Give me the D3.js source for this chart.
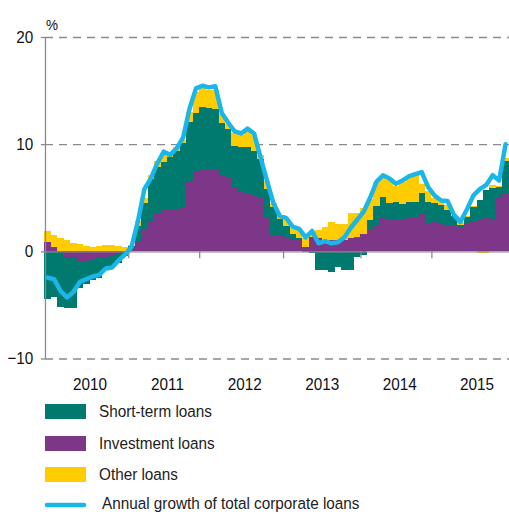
<!DOCTYPE html>
<html>
<head>
<meta charset="utf-8">
<script src="https://cdn.jsdelivr.net/npm/d3@7"></script>
<style>
  html, body { margin: 0; padding: 0; background: #fff; }
  svg { display: block; font-family: "Liberation Sans", Arial, sans-serif; }
</style>
</head>
<body>
<svg id="chart" width="509" height="514"></svg>
<script>
// Contributions to the annual growth of corporate loans, monthly, Dec 2009 – Nov 2015 (p.p.)
const months = d3.range(72).map(i => new Date(2009, 11 + i, 1));

const investment = [
  0.84, 0.40, -0.05, -0.50, -0.60, -0.95, -0.95, -0.80, -0.65, -0.60, -0.35, -0.20,
  -0.05, 0.30, 0.90, 2.08, 2.76, 3.45, 3.85, 3.90, 3.85, 4.16, 6.43, 7.43,
  7.68, 7.70, 7.70, 7.00, 6.85, 5.87, 5.56, 5.40, 5.25, 5.10, 3.23, 1.52,
  1.42, 1.30, 1.10, 1.06, 0.43, 1.30, 1.20, 1.10, 1.06, 1.06, 1.06, 1.20,
  1.35, 1.60, 2.05, 2.50, 3.07, 2.90, 2.95, 3.00, 3.17, 3.20, 3.60, 2.67,
  2.77, 2.60, 2.50, 2.45, 2.14, 2.60, 2.77, 3.00, 3.17, 2.92, 4.94, 5.47
];

const shortTerm = [
  -4.45, -4.30, -5.15, -4.75, -4.70, -2.45, -2.10, -1.90, -1.80, -1.15, -1.25, -0.90,
  -0.40, 0.20, 1.50, 2.40, 3.98, 4.45, 4.45, 4.93, 5.51, 5.91, 5.66, 5.44,
  5.75, 5.64, 5.60, 5.00, 4.55, 3.93, 4.20, 4.36, 4.10, 3.50, 2.57, 2.65,
  1.58, 1.10, 0.50, 0.15, -0.10, -0.15, -1.74, -1.74, -1.90, -1.45, -1.74, -1.75,
  -0.50, -0.30, 0.85, 1.70, 2.03, 1.58, 1.65, 1.40, 1.46, 1.43, 1.80, 1.96,
  1.77, 1.70, 1.40, 0.85, 0.31, 0.60, 1.40, 1.78, 2.53, 2.95, 1.09, 2.93
];

const other = [
  1.08, 1.15, 1.21, 1.05, 0.80, 0.68, 0.53, 0.43, 0.49, 0.56, 0.56, 0.49,
  0.37, 0.05, 0.40, 0.46, 0.36, 0.50, 0.84, 0.47, 0.40, 0.31, 0.91, 2.03,
  1.77, 1.76, 1.80, 0.80, 0.50, 1.20, 1.09, 1.44, 1.50, 0.40, 0.80, 0.33,
  0.35, 0.50, 0.60, 0.80, 0.80, 0.40, 0.80, 1.15, 1.65, 1.50, 1.50, 2.35,
  2.20, 2.40, 2.00, 2.30, 1.90, 2.22, 1.50, 2.10, 2.37, 2.47, 0.90, 1.00,
  0.40, 0.30, 0.40, 0.10, 0.25, 0.10, 0.05, -0.15, -0.15, 0.30, 0.10, 0.30
];

const totalGrowth = [
  -2.45, -2.60, -3.70, -4.30, -3.80, -2.85, -2.60, -2.35, -2.20, -1.60, -1.50, -0.85,
  -0.30, 0.40, 2.80, 5.80, 6.80, 8.20, 9.30, 9.00, 9.60, 10.60, 13.30, 15.20,
  15.45, 15.30, 15.40, 12.90, 12.00, 11.20, 11.00, 11.45, 11.00, 8.80, 6.60, 4.50,
  3.30, 3.10, 2.30, 2.10, 1.30, 1.90, 0.75, 0.95, 0.75, 0.85, 1.30, 2.20,
  2.95, 3.70, 5.00, 6.50, 7.10, 6.80, 6.30, 6.60, 7.00, 7.20, 7.40, 6.00,
  5.20, 4.75, 4.70, 3.40, 2.75, 3.90, 5.20, 5.80, 6.20, 7.10, 6.60, 10.00
];

const years = [2010, 2011, 2012, 2013, 2014, 2015];
const yTicks = [-10, 0, 10, 20];
const gridTicks = [-10, 10, 20];
const axisTickMonths = [13, 24, 37, 49, 60];

const seriesKeys = ["investment", "shortTerm", "other"];
const seriesColors = { investment: "#7e3689", shortTerm: "#007a6e", other: "#ffcc00" };
const lineColor = "#1ab6ea";

const legendItems = [
  { label: "Short-term loans", color: seriesColors.shortTerm, type: "box" },
  { label: "Investment loans", color: seriesColors.investment, type: "box" },
  { label: "Other loans", color: seriesColors.other, type: "box" },
  { label: "Annual growth of total corporate loans", color: lineColor, type: "line" }
];

const svg = d3.select("#chart");
const plotLeft = 45, plotRight = 509;
const textScale = "scale(0.9,1)";

const x = d3.scaleLinear().domain([0, months.length]).range([44.4, 508.8]);
const y = d3.scaleLinear().domain([-10, 20]).range([358.5, 37]);

// dashed horizontal gridlines
const grid = svg.append("g")
  .attr("transform", `translate(${plotLeft},0)`)
  .call(d3.axisLeft(y).tickValues(gridTicks).tickSize(-(plotRight - plotLeft)).tickFormat(""));
grid.select(".domain").remove();
grid.selectAll(".tick line")
  .attr("stroke", "#8a8a8a").attr("stroke-width", 1.3).attr("stroke-dasharray", "8,6");

// stacked bars: positives above zero, negatives below
const table = months.map((m, i) => ({
  i, investment: investment[i], shortTerm: shortTerm[i], other: other[i]
}));
const stacked = d3.stack().keys(seriesKeys).offset(d3.stackOffsetDiverging)(table);

svg.append("g").attr("shape-rendering", "crispEdges")
  .selectAll("g").data(stacked).join("g")
  .attr("fill", s => seriesColors[s.key])
  .selectAll("rect").data(s => s).join("rect")
  .attr("x", d => x(d.data.i))
  .attr("width", d => x(d.data.i + 1) - x(d.data.i))
  .attr("y", d => y(Math.max(d[0], d[1])))
  .attr("height", d => Math.abs(y(d[0]) - y(d[1])));

// zero line with month ticks
const xAxis = svg.append("g")
  .attr("transform", `translate(0,${y(0)})`)
  .call(d3.axisBottom(x).tickValues(axisTickMonths).tickSize(7).tickSizeOuter(0).tickFormat(""));
xAxis.select(".domain").attr("stroke", "#8a8a8a").attr("stroke-width", 1.3);
xAxis.selectAll(".tick line").attr("stroke", "#8a8a8a").attr("stroke-width", 1.3);

// year labels centred under each year
const yearAxis = svg.append("g")
  .attr("transform", "translate(0,372)")
  .call(d3.axisBottom(x)
    .tickValues(years.map(yr => (yr - 2010) * 12 + 7))
    .tickFormat((d, k) => years[k])
    .tickSize(0).tickPadding(6));
yearAxis.select(".domain").remove();
yearAxis.selectAll("text")
  .attr("font-size", 17).attr("fill", "#111")
  .attr("font-family", "'Liberation Sans', Arial, sans-serif")
  .attr("transform", textScale);

// vertical axis with labels
const yAxis = svg.append("g")
  .attr("transform", `translate(${plotLeft},0)`)
  .call(d3.axisLeft(y).tickValues(yTicks).tickSize(4).tickSizeOuter(0).tickPadding(9));
yAxis.select(".domain").attr("stroke", "#8a8a8a").attr("stroke-width", 1.3);
yAxis.selectAll(".tick line").attr("stroke", "#8a8a8a").attr("stroke-width", 1.3);
yAxis.selectAll("text")
  .attr("font-size", 17).attr("fill", "#111")
  .attr("font-family", "'Liberation Sans', Arial, sans-serif")
  .attr("transform", textScale);

svg.append("text")
  .attr("transform", `translate(46,30) ${textScale}`)
  .attr("font-size", 15).attr("fill", "#111")
  .text("%");

// total growth line
svg.append("path")
  .datum(totalGrowth)
  .attr("fill", "none")
  .attr("stroke", lineColor)
  .attr("stroke-width", 4.5)
  .attr("stroke-linejoin", "round")
  .attr("stroke-linecap", "round")
  .attr("d", d3.line().x((d, i) => x(i + 0.5)).y(d => y(d)));

// legend
const legend = svg.append("g");
const rowY = [404, 436, 467, 497];
legendItems.forEach((item, k) => {
  const g = legend.append("g").attr("transform", `translate(45,${rowY[k]})`);
  if (item.type === "box") {
    g.append("rect").attr("width", 41).attr("height", 15).attr("fill", item.color);
    g.append("text")
      .attr("transform", `translate(54,13) ${textScale}`)
      .attr("font-size", 17).attr("fill", "#222").text(item.label);
  } else {
    g.append("line").attr("x1", 2).attr("x2", 39).attr("y1", 8).attr("y2", 8)
      .attr("stroke", item.color).attr("stroke-width", 4.5).attr("stroke-linecap", "round");
    g.append("text")
      .attr("transform", `translate(57,12) ${textScale}`)
      .attr("font-size", 17).attr("fill", "#222").text(item.label);
  }
});
</script>
</body>
</html>
